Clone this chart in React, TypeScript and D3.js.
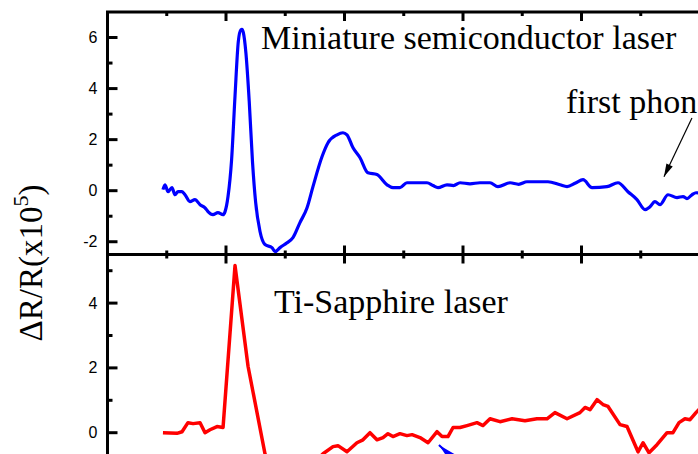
import { useMemo } from "react";
import * as d3 from "d3";

const WIDTH = 698;
const HEIGHT = 454;

// frame geometry (the right and bottom edges run past the window)
const LEFT = 107.5;
const RIGHT = 700;
const TOP = 12;
const MID = 254.5;
const BOTTOM = 497.5;

// delay axis, one major tick per unit
const xMajor = [0, 1, 2, 3, 4, 5];
const xMinor = [0.5, 1.5, 2.5, 3.5, 4.5];

const topMajor = [-2, 0, 2, 4, 6];
const topMinor = [-1, 1, 3, 5];
const bottomMajor = [0, 2, 4];
const bottomMinor = [1, 3, 5];

// miniature semiconductor laser trace
const blueX = [
  0.468, 0.485, 0.511, 0.544, 0.57, 0.595, 0.629, 0.654, 0.696, 0.738, 0.781,
  0.823, 0.848, 0.89, 0.932, 0.975, 0.992, 1.017, 1.047, 1.076, 1.104, 1.125,
  1.135, 1.146, 1.168, 1.196, 1.224, 1.25, 1.287, 1.329, 1.388, 1.414, 1.456,
  1.515, 1.565, 1.624, 1.684, 1.734, 1.81, 1.861, 1.937, 1.987, 2.021, 2.072,
  2.131, 2.198, 2.274, 2.359, 2.409, 2.468, 2.527, 2.612, 2.696, 2.747, 2.789,
  2.865, 2.92, 2.975, 3.059, 3.143, 3.228, 3.295, 3.397, 3.47, 3.54, 3.624,
  3.717, 3.819, 3.878, 3.95, 4.013, 4.089, 4.215, 4.308, 4.392, 4.468, 4.536,
  4.578, 4.62, 4.662, 4.73, 4.806, 4.857, 4.89, 4.932, 4.966, 5.0,
];
const blueY = [
  0.04, 0.23, -0.04, 0.12, -0.16, -0.04, -0.04, -0.16, -0.43, -0.35, -0.55,
  -0.67, -0.82, -0.94, -0.86, -0.94, -0.82, -0.23, 1.2, 3.7, 5.85, 6.3, 6.32,
  6.2, 5.4, 3.5, 1.1, -0.45, -1.6, -2.11, -2.23, -2.39, -2.23, -2.04, -1.84,
  -1.25, -0.67, 0.16, 1.33, 1.88, 2.19, 2.27, 2.19, 1.68, 1.29, 0.7, 0.63,
  0.23, 0.12, 0.12, 0.31, 0.31, 0.31, 0.2, 0.12, 0.23, 0.2, 0.31, 0.27, 0.31,
  0.31, 0.16, 0.31, 0.25, 0.35, 0.35, 0.35, 0.23, 0.16, 0.3, 0.43, 0.12, 0.16,
  0.31, -0.04, -0.35, -0.74, -0.63, -0.43, -0.55, -0.16, -0.27, -0.23, -0.31,
  -0.16, -0.08, -0.1,
];

// Ti-Sapphire laser trace
const redX = [
  0.468, 0.586, 0.629, 0.679, 0.722, 0.781, 0.823, 0.865, 0.924, 0.975, 1.076,
  1.186, 1.329, 1.414, 1.54, 1.667, 1.75, 1.819, 1.903, 1.945, 2.021, 2.105,
  2.156, 2.215, 2.274, 2.325, 2.367, 2.409, 2.468, 2.527, 2.57, 2.637, 2.705,
  2.781, 2.823, 2.873, 2.916, 2.975, 3.034, 3.118, 3.169, 3.228, 3.312, 3.414,
  3.523, 3.624, 3.709, 3.776, 3.878, 3.987, 4.03, 4.072, 4.131, 4.181, 4.224,
  4.325, 4.384, 4.477, 4.519, 4.57, 4.637, 4.722, 4.772, 4.823, 4.873, 4.916,
  4.966, 5.0,
];
const redY = [
  0, -0.02, 0.03, 0.31, 0.28, 0.31, 0, 0.09, 0.19, 0.16, 5.16, 2.05, -0.65,
  -1.4, -1.6, -1.3, -0.9, -0.65, -0.43, -0.4, -0.59, -0.31, -0.22, 0, -0.22,
  -0.15, -0.03, -0.12, -0.03, -0.09, -0.06, -0.15, -0.31, 0.03, -0.12, -0.12,
  0.16, 0.16, 0.22, 0.31, 0.22, 0.43, 0.34, 0.43, 0.37, 0.43, 0.43, 0.62, 0.43,
  0.62, 0.78, 0.71, 1.02, 0.87, 0.81, 0.25, 0.19, -0.59, -0.31, -0.62, -0.37,
  0, 0, 0.31, 0.43, 0.4, 0.62, 0.75,
];

const SERIF = "'Liberation Serif', 'Times New Roman', serif";
const SANS = "'Liberation Sans', Arial, sans-serif";

const arrowHead = (
  x1: number,
  y1: number,
  x2: number,
  y2: number,
  len: number,
  half: number
) => {
  const a = Math.atan2(y2 - y1, x2 - x1);
  const bx = x2 - len * Math.cos(a);
  const by = y2 - len * Math.sin(a);
  const px = -Math.sin(a) * half;
  const py = Math.cos(a) * half;
  return `M${x2},${y2}L${bx + px},${by + py}L${bx - px},${by - py}Z`;
};

const App = () => {
  const xScale = useMemo(
    () => d3.scaleLinear().domain([0, 5]).range([LEFT, RIGHT]),
    []
  );
  const yTop = useMemo(
    () => d3.scaleLinear().domain([-2.5, 7]).range([MID, TOP]),
    []
  );
  const yBot = useMemo(
    () => d3.scaleLinear().domain([-2, 5.5]).range([BOTTOM, MID]),
    []
  );

  const blueLine = d3
    .line<number>()
    .x((d, i) => xScale(blueX[i]))
    .y((d) => yTop(d))
    .curve(d3.curveMonotoneX)(blueY);

  const redLine = d3
    .line<number>()
    .x((d, i) => xScale(redX[i]))
    .y((d) => yBot(d))(redY);

  // annotation arrows, in data units
  const ph = {
    x1: xScale(4.932),
    y1: yTop(2.85),
    x2: xScale(4.696),
    y2: yTop(0.55),
  };
  const ba = {
    x1: xScale(3.08),
    y1: yBot(-1.35),
    x2: xScale(2.797),
    y2: yBot(-0.38),
  };

  const xTicks = (y: number, dir: "down" | "both") => (
    <g stroke="#000" strokeWidth={3}>
      {xMajor.map((v) => (
        <line
          key={`M${v}`}
          x1={xScale(v)}
          x2={xScale(v)}
          y1={dir === "both" ? y - 9 : y}
          y2={y + 9}
        />
      ))}
      {xMinor.map((v) => (
        <line
          key={`m${v}`}
          x1={xScale(v)}
          x2={xScale(v)}
          y1={dir === "both" ? y - 4 : y}
          y2={y + 4}
        />
      ))}
    </g>
  );

  const yTicks = (
    scale: d3.ScaleLinear<number, number>,
    major: number[],
    minor: number[]
  ) => (
    <g>
      {major.map((v) => (
        <g key={`M${v}`}>
          <line
            x1={LEFT}
            x2={LEFT + 10}
            y1={scale(v)}
            y2={scale(v)}
            stroke="#000"
            strokeWidth={3}
          />
          <text
            x={LEFT - 10}
            y={scale(v)}
            textAnchor="end"
            dominantBaseline="central"
            fontFamily={SANS}
            fontSize={16}
          >
            {v}
          </text>
        </g>
      ))}
      {minor.map((v) => (
        <line
          key={`m${v}`}
          x1={LEFT}
          x2={LEFT + 5}
          y1={scale(v)}
          y2={scale(v)}
          stroke="#000"
          strokeWidth={3}
        />
      ))}
    </g>
  );

  return (
    <svg
      width={WIDTH}
      height={HEIGHT}
      style={{ position: "absolute", left: 0, top: 0, background: "#fff" }}
    >
      <defs>
        <clipPath id="clipTop">
          <rect x={LEFT} y={TOP} width={RIGHT - LEFT} height={MID - TOP} />
        </clipPath>
        <clipPath id="clipBot">
          <rect x={LEFT} y={MID} width={RIGHT - LEFT} height={BOTTOM - MID} />
        </clipPath>
      </defs>

      <path
        d={blueLine ?? ""}
        fill="none"
        stroke="#0000ff"
        strokeWidth={3.2}
        strokeLinejoin="round"
        clipPath="url(#clipTop)"
      />
      <path
        d={redLine ?? ""}
        fill="none"
        stroke="#ff0000"
        strokeWidth={3.5}
        strokeLinejoin="round"
        clipPath="url(#clipBot)"
      />

      {/* frame */}
      <g stroke="#000" strokeWidth={3} fill="none">
        <path d={`M${LEFT},${BOTTOM}V${TOP}H${RIGHT}`} strokeLinecap="square" />
        <line x1={LEFT} x2={RIGHT} y1={MID} y2={MID} />
      </g>
      {xTicks(TOP, "down")}
      {xTicks(MID, "both")}
      {yTicks(yTop, topMajor, topMinor)}
      {yTicks(yBot, bottomMajor, bottomMinor)}

      {/* labels */}
      <text
        x={xScale(1.295)}
        y={yTop(5.55)}
        fontFamily={SERIF}
        fontSize={34}
      >
        Miniature semiconductor laser
      </text>
      <text x={xScale(3.869)} y={yTop(3.04)} fontFamily={SERIF} fontSize={34}>
        first phonon
      </text>
      <text x={xScale(1.405)} y={yBot(3.69)} fontFamily={SERIF} fontSize={34}>
        Ti-Sapphire laser
      </text>
      <text
        transform="translate(42,263) rotate(-90)"
        textAnchor="middle"
        fontFamily={SERIF}
        fontSize={33}
      >
        ΔR/R(x10
        <tspan fontSize={22} dy={-14}>
          5
        </tspan>
        <tspan dy={14}>)</tspan>
      </text>

      {/* arrows */}
      <line
        x1={ph.x1}
        y1={ph.y1}
        x2={ph.x2}
        y2={ph.y2}
        stroke="#000"
        strokeWidth={1.2}
      />
      <path d={arrowHead(ph.x1, ph.y1, ph.x2, ph.y2, 13, 3.5)} fill="#000" />
      <line
        x1={ba.x1}
        y1={ba.y1}
        x2={ba.x2}
        y2={ba.y2}
        stroke="#0000ff"
        strokeWidth={2}
      />
      <path d={arrowHead(ba.x1, ba.y1, ba.x2, ba.y2, 24, 5.5)} fill="#0000ff" />
    </svg>
  );
};

export default App;
